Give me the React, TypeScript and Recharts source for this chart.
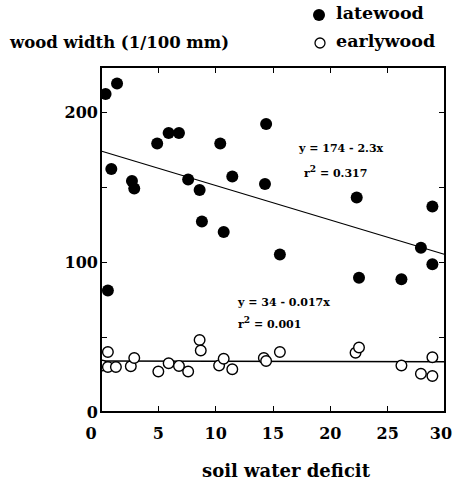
import React from "react";
import {
  ScatterChart,
  Scatter,
  XAxis,
  YAxis,
  ReferenceLine,
} from "recharts";

// soil water deficit (x) and wood width in 1/100 mm (y)
const lateDeficit = [
  0.4, 1.4, 0.9, 0.6, 2.7, 2.9, 4.9, 5.9, 6.8, 7.6, 8.6, 8.8,
  10.4, 10.7, 11.45, 14.3, 14.4, 15.6, 22.3, 22.5, 26.2, 27.9, 28.9, 28.9,
];
const lateWidth = [
  212, 219, 162, 81, 154, 149, 179, 186, 186, 155, 148, 127,
  179, 120, 157, 152, 192, 105, 143, 89.5, 88.5, 109.5, 137, 98.5,
];
const earlyDeficit = [
  0.1, 0.6, 0.6, 1.3, 2.6, 2.9, 5.0, 5.9, 6.8, 7.6, 8.6, 8.7,
  10.3, 10.7, 11.45, 14.2, 14.4, 15.6, 22.2, 22.5, 26.2, 27.9, 28.9, 28.9,
];
const earlyWidth = [
  31, 30, 40, 30, 30.5, 36, 27, 32.5, 30.7, 27, 48, 41,
  31, 35.5, 28.5, 36, 34, 40, 39.5, 43, 31, 25.5, 36.5, 24,
];

// fitted lines (from the printed equations)
const lateFit = [
  { x: 0, y: 174 },
  { x: 30, y: 105 },
];
const earlyFit = [
  { x: 0, y: 34 },
  { x: 30, y: 33.5 },
];

const xMax = 30;
const yMax = 230;
const xTicks = [0, 5, 10, 15, 20, 25, 30];
const yTicks = [0, 50, 100, 150, 200];
const yLabelled = [0, 100, 200];

const latewood = lateDeficit.map((x, i) => ({ x, y: lateWidth[i] }));
const earlywood = earlyDeficit.map((x, i) => ({ x, y: earlyWidth[i] }));

// layout
const W = 457;
const H = 481;
const M = { top: 67, right: 12, bottom: 29, left: 0 };
const Y_AXIS_W = 101;
const X_AXIS_H = 40;
const PLOT_X = M.left + Y_AXIS_W;
const PLOT_Y = M.top;
const PLOT_W = W - M.left - M.right - Y_AXIS_W;
const PLOT_H = H - M.top - M.bottom - X_AXIS_H;
const TICK = 6;

const FONT = "'DejaVu Serif', serif";
const tickStyle = { fontFamily: FONT, fontWeight: 700, fontSize: 16, fill: "#000" };

const FilledDot = (p: any) => <circle cx={p.cx} cy={p.cy} r={6} fill="#000" />;
const OpenDot = (p: any) => (
  <circle cx={p.cx} cy={p.cy} r={5.3} fill="#fff" stroke="#000" strokeWidth={1.4} />
);

// x tick label: the "0" sits a little left of the corner in the original
const XTick = (p: any) => {
  const v = p.payload.value;
  const shift = v === 0 ? -10 : v === 30 ? -4 : 0;
  return (
    <text x={p.x + shift} y={p.y} dy="0.71em" textAnchor="middle" style={tickStyle}>
      {v}
    </text>
  );
};

const bar = (left: number, top: number, width: number, height: number, key: string) => (
  <div
    key={key}
    style={{ position: "absolute", left, top, width, height, background: "#000" }}
  />
);

// boxed frame with inward tick marks on all four sides (html overlay)
const Frame = () => {
  const px = (v: number) => PLOT_X + (v / xMax) * PLOT_W;
  const py = (v: number) => PLOT_Y + (1 - v / yMax) * PLOT_H;
  const bottom = PLOT_Y + PLOT_H;
  const right = PLOT_X + PLOT_W;
  const parts: React.ReactNode[] = [];
  parts.push(bar(PLOT_X - 1, PLOT_Y - 1, PLOT_W + 2, 2, "top"));
  parts.push(bar(right - 1, PLOT_Y - 1, 2, PLOT_H + 2, "right"));
  parts.push(bar(PLOT_X - 1, bottom - 1, PLOT_W + 2, 2, "bottom"));
  parts.push(bar(PLOT_X - 1, PLOT_Y - 1, 2, PLOT_H + 2, "left"));
  xTicks.forEach((t) => {
    parts.push(bar(px(t) - 0.5, bottom - TICK, 1.3, TICK, `xb${t}`));
    parts.push(bar(px(t) - 0.5, PLOT_Y, 1.3, TICK, `xt${t}`));
  });
  yTicks.forEach((t) => {
    parts.push(bar(PLOT_X, py(t) - 0.5, TICK, 1.3, `yl${t}`));
    parts.push(bar(right - TICK, py(t) - 0.5, TICK, 1.3, `yr${t}`));
  });
  return <>{parts}</>;
};

const textStyle: React.CSSProperties = {
  position: "absolute",
  fontFamily: FONT,
  fontWeight: 700,
  color: "#000",
  whiteSpace: "nowrap",
  lineHeight: 1,
};

export default function App() {
  return (
    <div style={{ position: "absolute", left: 0, top: 0, width: W, height: H, background: "#fff" }}>
      <ScatterChart width={W} height={H} margin={M}>
        <XAxis
          type="number"
          dataKey="x"
          domain={[0, xMax]}
          ticks={xTicks}
          allowDataOverflow
          height={X_AXIS_H}
          tickLine={false}
          tickSize={0}
          tickMargin={16}
          stroke="#000"
          strokeWidth={1.5}
          tick={<XTick />}
        />
        <YAxis
          type="number"
          dataKey="y"
          domain={[0, yMax]}
          ticks={yTicks}
          allowDataOverflow
          width={Y_AXIS_W}
          tickLine={false}
          tickSize={0}
          tickMargin={3}
          tickFormatter={(v: number) => (yLabelled.includes(v) ? String(v) : "")}
          stroke="#000"
          strokeWidth={1.5}
          tick={tickStyle}
        />
        <ReferenceLine segment={lateFit} stroke="#000" strokeWidth={1.3} ifOverflow="visible" />
        <ReferenceLine segment={earlyFit} stroke="#000" strokeWidth={1.3} ifOverflow="visible" />
        <Scatter data={earlywood} shape={OpenDot} isAnimationActive={false} />
        <Scatter data={latewood} shape={FilledDot} isAnimationActive={false} />
      </ScatterChart>

      <Frame />

      <div style={{ ...textStyle, left: 10, top: 35, fontSize: 16.5 }}>wood width (1/100 mm)</div>

      <svg style={{ position: "absolute", left: 310, top: 6 }} width={20} height={46}>
        <circle cx={9} cy={9} r={6} fill="#000" />
        <circle cx={10} cy={37} r={5} fill="#fff" stroke="#000" strokeWidth={1.3} />
      </svg>
      <div style={{ ...textStyle, left: 336, top: 5, fontSize: 17.5 }}>latewood</div>
      <div style={{ ...textStyle, left: 336, top: 33, fontSize: 17.5 }}>earlywood</div>

      <div style={{ ...textStyle, left: 299, top: 143, fontSize: 11 }}>y = 174 - 2.3x</div>
      <div style={{ ...textStyle, left: 304, top: 165, fontSize: 11 }}>
        r<sup style={{ fontSize: 9 }}>2</sup> = 0.317
      </div>
      <div style={{ ...textStyle, left: 238, top: 297, fontSize: 11 }}>y = 34 - 0.017x</div>
      <div style={{ ...textStyle, left: 238, top: 316, fontSize: 11 }}>
        r<sup style={{ fontSize: 9 }}>2</sup> = 0.001
      </div>

      <div style={{ ...textStyle, left: 202, top: 462, fontSize: 18 }}>soil water deficit</div>
    </div>
  );
}
